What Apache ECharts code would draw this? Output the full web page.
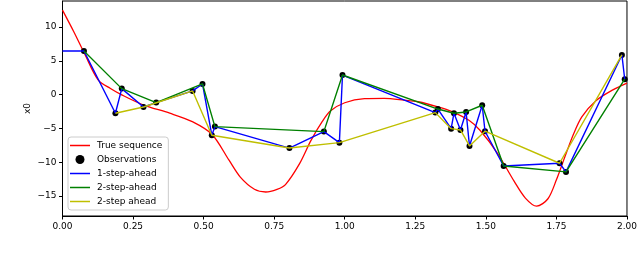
<!DOCTYPE html>
<html>
<head>
<meta charset="utf-8">
<script src="https://cdn.jsdelivr.net/npm/echarts@6/dist/echarts.min.js"></script>
<style>
html,body{margin:0;padding:0;background:#fff;}
#c{width:640px;height:259px;}
</style>
</head>
<body>
<div id="c"></div>
<script>
// True sequence
var trueX = [0, 0.04, 0.08, 0.126, 0.17, 0.21, 0.285, 0.38, 0.46, 0.53, 0.59, 0.63, 0.68, 0.72, 0.76, 0.79, 0.84, 0.88, 0.92, 0.95, 1.0, 1.07, 1.14, 1.21, 1.26, 1.33, 1.38, 1.44, 1.48, 1.54, 1.60, 1.64, 1.68, 1.72, 1.75, 1.78, 1.81, 1.84, 1.89, 1.95, 2.0];
var trueY = [12.5, 9.3, 5.9, 2.2, 0.9, -0.04, -1.5, -2.75, -4.0, -5.9, -9.7, -12.2, -14.0, -14.4, -14.0, -13.3, -10.2, -6.8, -4.0, -2.4, -1.2, -0.6, -0.55, -0.8, -1.05, -1.8, -2.5, -3.8, -5.3, -8.6, -12.8, -15.3, -16.5, -15.4, -12.6, -9.2, -5.9, -3.3, -0.9, 0.7, 1.7];
// Observations
var obsX = [0.076, 0.1875, 0.21, 0.287, 0.332, 0.461, 0.496, 0.529, 0.54, 0.804, 0.926, 0.981, 0.992, 1.321, 1.330, 1.377, 1.387, 1.41, 1.43, 1.442, 1.487, 1.497, 1.563, 1.761, 1.784, 1.982, 1.992];
var obsY = [6.46, -2.75, 0.89, -1.83, -1.18, 0.55, 1.58, -6.0, -4.73, -7.9, -5.47, -7.1, 2.9, -2.66, -2.13, -5.03, -2.75, -5.22, -2.56, -7.59, -1.57, -5.41, -10.55, -10.15, -11.43, 5.87, 2.28];
// 1-step-ahead
var oneX = [0, 0.076, 0.1875, 0.21, 0.287, 0.332, 0.461, 0.496, 0.529, 0.54, 0.804, 0.926, 0.981, 0.992, 1.321, 1.330, 1.377, 1.387, 1.41, 1.43, 1.442, 1.487, 1.497, 1.563, 1.761, 1.784, 1.982, 1.992];
var oneY = [6.46, 6.46, -2.75, 0.89, -1.83, -1.18, 0.55, 1.58, -6.0, -4.73, -7.9, -5.47, -7.1, 2.9, -2.66, -2.13, -5.03, -2.75, -5.22, -2.56, -7.59, -1.57, -5.41, -10.55, -10.15, -11.43, 5.87, 2.28];
// 2-step-ahead (green)
var twoX = [0.076, 0.21, 0.332, 0.496, 0.54, 0.926, 0.992, 1.330, 1.387, 1.43, 1.487, 1.563, 1.784, 1.992];
var twoY = [6.46, 0.89, -1.18, 1.58, -4.73, -5.47, 2.9, -2.13, -2.75, -2.56, -1.57, -10.55, -11.43, 2.28];
// "2-step ahead" (yellow)
var thrX = [0.1875, 0.287, 0.461, 0.529, 0.804, 0.981, 1.321, 1.377, 1.41, 1.442, 1.497, 1.761, 1.982];
var thrY = [-2.75, -1.83, 0.55, -6.0, -7.9, -7.1, -2.66, -5.03, -5.22, -7.59, -5.41, -10.15, 5.87];
// Axis ticks
var xTicks = [0, 0.25, 0.5, 0.75, 1.0, 1.25, 1.5, 1.75, 2.0];
var yTicks = [-15, -10, -5, 0, 5, 10];

function pairs(xs, ys){ return xs.map(function(x,i){ return [x, ys[i]]; }); }

var FONT = 'DejaVu Sans';
var LINE_ICON = 'path://M0,0 L40,0 L40,3 L0,3 Z';
var chart = echarts.init(document.getElementById('c'), null, {renderer:'canvas'});
chart.setOption({
  animation: false,
  backgroundColor: '#fff',
  grid: {left: 62.5, right: 10, top: 1, bottom: 43, show: true, borderColor: '#000', borderWidth: 1, backgroundColor: 'transparent'},
  xAxis: {
    type: 'value', min: 0, max: 2, interval: 0.25,
    axisLine: {show: true, onZero: false, lineStyle: {color: '#000', width: 1}},
    axisTick: {show: true, length: 3.5, lineStyle: {color: '#000'}},
    axisLabel: {color: '#000', fontSize: 9, fontFamily: FONT, margin: 6, formatter: function(v){ return v.toFixed(2); }},
    splitLine: {show: false}
  },
  yAxis: {
    type: 'value', min: -17.95, max: 13.85,
    name: 'x0', nameLocation: 'middle', nameGap: 30, nameRotate: 90, nameMoveOverlap: false,
    nameTextStyle: {color: '#000', fontSize: 9, fontFamily: FONT},
    axisLine: {show: true, onZero: false, lineStyle: {color: '#000', width: 1}},
    axisTick: {show: true, length: 3.5, customValues: yTicks, lineStyle: {color: '#000'}},
    axisLabel: {color: '#000', fontSize: 9, fontFamily: FONT, margin: 6, customValues: yTicks,
      formatter: function(v){ return String(v).replace('-', '\u2212'); }},
    splitLine: {show: false}
  },
  legend: {
    orient: 'vertical', left: 68, top: 137,
    backgroundColor: 'rgba(255,255,255,0.85)', borderColor: '#cccccc', borderWidth: 1, borderRadius: 3,
    padding: [4, 6, 4, 2], itemGap: 5, itemWidth: 20, itemHeight: 9, symbolKeepAspect: true,
    textStyle: {color: '#000', fontSize: 9, fontFamily: FONT, padding: [0, 0, 0, 2]},
    data: [
      {name: 'True sequence', icon: LINE_ICON},
      {name: 'Observations', icon: 'circle', itemStyle: {color: '#000'}},
      {name: '1-step-ahead', icon: LINE_ICON},
      {name: '2-step-ahead', icon: LINE_ICON},
      {name: '2-step ahead', icon: LINE_ICON}
    ]
  },
  series: [
    {name: 'True sequence', type: 'line', data: pairs(trueX, trueY), smooth: 0.3, symbol: 'none',
     lineStyle: {color: '#ff0000', width: 1.3}, itemStyle: {color: '#ff0000'}, z: 2},
    {name: 'Observations', type: 'scatter', data: pairs(obsX, obsY), symbol: 'circle', symbolSize: 6,
     itemStyle: {color: '#000', opacity: 1}, z: 3},
    {name: '1-step-ahead', type: 'line', data: pairs(oneX, oneY), symbol: 'none',
     lineStyle: {color: '#0000ff', width: 1.4}, itemStyle: {color: '#0000ff'}, z: 4},
    {name: '2-step-ahead', type: 'line', data: pairs(twoX, twoY), symbol: 'none',
     lineStyle: {color: '#008000', width: 1.4}, itemStyle: {color: '#008000'}, z: 5},
    {name: '2-step ahead', type: 'line', data: pairs(thrX, thrY), symbol: 'none',
     lineStyle: {color: '#bfbf00', width: 1.4}, itemStyle: {color: '#bfbf00'}, z: 6}
  ]
});
</script>
</body>
</html>
